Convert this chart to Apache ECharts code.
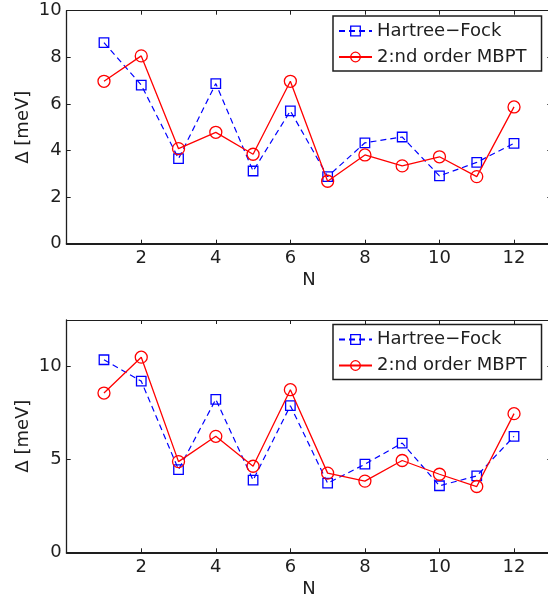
<!DOCTYPE html>
<html>
<head>
<meta charset="utf-8">
<title>Pairing gap vs N</title>
<script src="https://cdn.jsdelivr.net/npm/echarts@6/dist/echarts.min.js"></script>
<style>
  html, body { margin: 0; padding: 0; background: #fff; }
  #chart { width: 548px; height: 603px; }
</style>
</head>
<body>
<div id="chart"></div>
<script>
// Particle number N on the horizontal axis
const nValues = [1, 2, 3, 4, 5, 6, 7, 8, 9, 10, 11, 12];

// Upper panel: gap in meV
const hfUpper   = [8.63, 6.81, 3.65, 6.87, 3.12, 5.70, 2.88, 4.33, 4.58, 2.91, 3.49, 4.31];
const mbptUpper = [6.97, 8.06, 4.08, 4.78, 3.84, 6.97, 2.68, 3.81, 3.34, 3.73, 2.88, 5.87];

// Lower panel: gap in meV
const hfLower   = [10.36, 9.21, 4.45, 8.23, 3.88, 7.89, 3.72, 4.74, 5.88, 3.58, 4.11, 6.24];
const mbptLower = [8.57, 10.50, 4.88, 6.24, 4.63, 8.75, 4.26, 3.83, 4.94, 4.20, 3.54, 7.46];

// Axis ticks
const xTicks = [2, 4, 6, 8, 10, 12];
const yTicksUpper = [0, 2, 4, 6, 8, 10];
const yTicksLower = [0, 5, 10];

const seriesNames = ['Hartree\u2212Fock', '2:nd order MBPT'];

const FONT = 'DejaVu Sans';
const INK = '#1e1e1e';
const BLUE = '#0000ff';
const RED = '#ff0000';

const pairs = (ys) => nValues.map((n, i) => [n, ys[i]]);

function bottomX(g) {
  return {
    type: 'value', gridIndex: g, position: 'bottom',
    min: 0, max: 13, interval: 2,
    axisLine: { show: true, onZero: false, lineStyle: { color: INK, width: 2 } },
    axisTick: { show: true, inside: true, length: 4, lineStyle: { color: INK, width: 1 } },
    axisLabel: {
      show: true, margin: 6, color: INK, fontFamily: FONT, fontSize: 18,
      formatter: (v) => (xTicks.indexOf(v) >= 0 ? String(v) : '')
    },
    splitLine: { show: false },
    name: 'N', nameLocation: 'middle', nameGap: 28, nameMoveOverlap: false,
    nameTextStyle: { color: INK, fontFamily: FONT, fontSize: 18 }
  };
}

function topX(g) {
  return {
    type: 'value', gridIndex: g, position: 'top',
    min: 0, max: 13, interval: 2,
    axisLine: { show: true, onZero: false, lineStyle: { color: INK, width: 1 } },
    axisTick: { show: true, inside: true, length: 4, lineStyle: { color: INK, width: 1 } },
    axisLabel: { show: false },
    splitLine: { show: false }
  };
}

function leftY(g, max, interval, ticks) {
  return {
    type: 'value', gridIndex: g, position: 'left',
    min: 0, max: max, interval: interval,
    axisLine: { show: true, onZero: false, lineStyle: { color: INK, width: 1.3 } },
    axisTick: { show: true, inside: true, length: 4, lineStyle: { color: INK, width: 1 } },
    axisLabel: {
      show: true, margin: 5, color: INK, fontFamily: FONT, fontSize: 18,
      formatter: (v) => (ticks.indexOf(v) >= 0 ? String(v) : '')
    },
    splitLine: { show: false },
    name: '\u0394 [meV]', nameLocation: 'middle', nameGap: 34, nameRotate: 90, nameMoveOverlap: false,
    nameTextStyle: { color: INK, fontFamily: FONT, fontSize: 18 }
  };
}

// Right-hand frame: only its inward ticks fall inside the canvas
function rightY(g, max, interval) {
  return {
    type: 'value', gridIndex: g, position: 'right',
    min: 0, max: max, interval: interval,
    axisLine: { show: false, onZero: false },
    axisTick: { show: true, inside: true, length: 4, lineStyle: { color: INK, width: 1 } },
    axisLabel: { show: false },
    splitLine: { show: false }
  };
}

function hfSeries(xi, yi, ys) {
  return {
    name: seriesNames[0], type: 'line', xAxisIndex: xi, yAxisIndex: yi,
    data: pairs(ys),
    symbol: 'rect', symbolSize: 9.5, showAllSymbol: true,
    lineStyle: { color: BLUE, width: 1.2, type: [6, 4] },
    itemStyle: { color: 'rgba(0,0,0,0)', borderColor: BLUE, borderWidth: 1.3 },
    emphasis: { disabled: true },
    z: 2
  };
}

function mbptSeries(xi, yi, ys) {
  return {
    name: seriesNames[1], type: 'line', xAxisIndex: xi, yAxisIndex: yi,
    data: pairs(ys),
    symbol: 'circle', symbolSize: 12, showAllSymbol: true,
    lineStyle: { color: RED, width: 1.3 },
    itemStyle: { color: 'rgba(0,0,0,0)', borderColor: RED, borderWidth: 1.3 },
    emphasis: { disabled: true },
    z: 3
  };
}

function legendAt(top) {
  return {
    show: true, orient: 'vertical', left: 333, top: top,
    data: seriesNames,
    selectedMode: false,
    itemWidth: 33, itemHeight: 12, itemGap: 8,
    padding: [6, 15, 5, 5],
    backgroundColor: '#fff',
    borderColor: INK, borderWidth: 1.5, borderRadius: 0,
    itemStyle: { borderWidth: 1.3 },
    textStyle: { color: INK, fontFamily: FONT, fontSize: 18 }
  };
}

const chart = echarts.init(document.getElementById('chart'), null, { renderer: 'canvas' });

chart.setOption({
  animation: false,
  backgroundColor: '#fff',
  grid: [
    { left: 66.7, top: 10.7, width: 484.6, height: 233, outerBoundsMode: 'none', containLabel: false },
    { left: 66.7, top: 320, width: 484.6, height: 232.3, outerBoundsMode: 'none', containLabel: false }
  ],
  xAxis: [bottomX(0), topX(0), bottomX(1), topX(1)],
  yAxis: [leftY(0, 10, 2, yTicksUpper), rightY(0, 10, 2), leftY(1, 12.5, 5, yTicksLower), rightY(1, 12.5, 5)],
  legend: [legendAt(16), legendAt(324.5)],
  series: [
    hfSeries(0, 0, hfUpper),
    mbptSeries(0, 0, mbptUpper),
    hfSeries(2, 2, hfLower),
    mbptSeries(2, 2, mbptLower)
  ]
});
</script>
</body>
</html>
